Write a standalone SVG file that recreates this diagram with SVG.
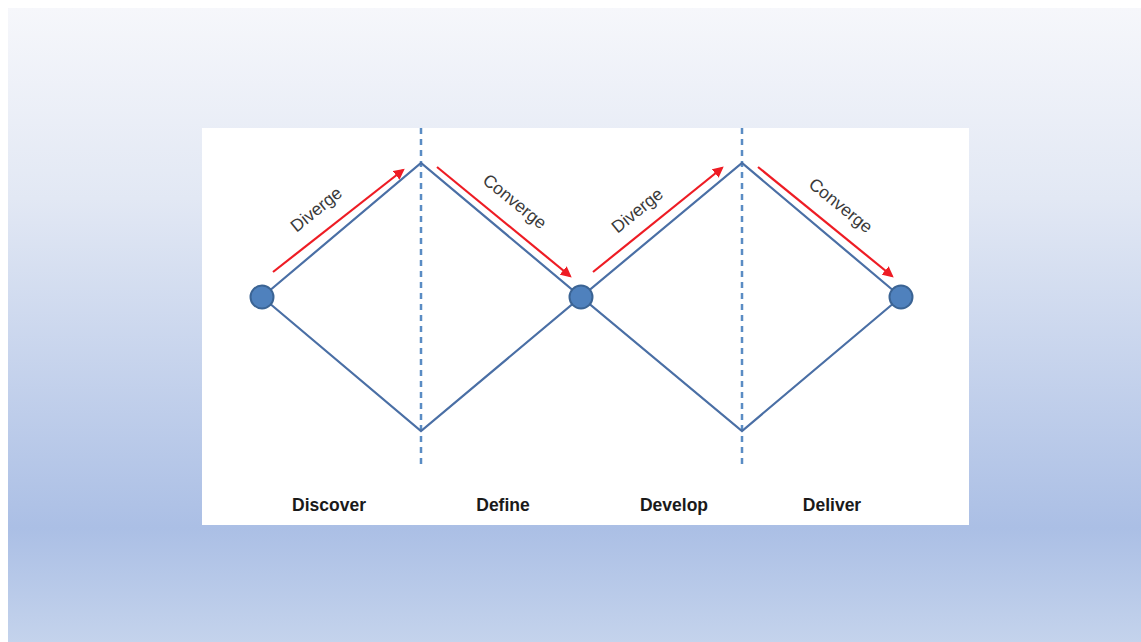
<svg xmlns="http://www.w3.org/2000/svg" width="1141" height="642" viewBox="0 0 1141 642">
<style>
.edge{stroke:#4a6fa5;stroke-width:2.2;fill:none}
.dash{stroke:#5a8cc4;stroke-width:2.5;stroke-dasharray:6 5;fill:none}
.arr{stroke:#ee1c24;stroke-width:2.2;fill:none;marker-end:url(#ah)}
.node{fill:#4f81bd;stroke:#3b6494;stroke-width:2}
.lbl{font-family:"Liberation Sans",Arial,sans-serif;font-size:17.5px;fill:#3a3a3a;text-anchor:middle}
.phase{font-family:"Liberation Sans",Arial,sans-serif;font-size:17.5px;font-weight:bold;fill:#1a1a1a;text-anchor:middle}
</style>
<defs>
<linearGradient id="bg" x1="0" y1="0" x2="0" y2="1">
<stop offset="0" stop-color="#f6f7fb"/>
<stop offset="0.3" stop-color="#e2e8f4"/>
<stop offset="0.82" stop-color="#abbfe5"/>
<stop offset="1" stop-color="#c4d3ec"/>
</linearGradient>
<marker id="ah" viewBox="0 0 10 10" refX="8" refY="5" markerWidth="5" markerHeight="5" orient="auto" markerUnits="strokeWidth">
<path d="M0,0 L10,5 L0,10 Z" fill="#ee1c24"/>
</marker>
</defs>
<rect width="1141" height="642" fill="#ffffff"/>
<rect x="8" y="8" width="1133" height="634" fill="url(#bg)"/>
<rect x="202" y="128" width="767" height="397" fill="#ffffff"/>
<g id="connectors">
<line class="dash" x1="421" y1="128" x2="421" y2="466"/>
<line class="dash" x1="742" y1="128" x2="742" y2="466"/>
<polyline class="edge" points="262,297 421,163 581,297 742,163 901,297"/>
<polyline class="edge" points="262,297 421,431 581,297 742,431 901,297"/>
<line class="arr" x1="273" y1="272" x2="403" y2="170"/>
<line class="arr" x1="437" y1="167" x2="570" y2="276"/>
<line class="arr" x1="593" y1="272" x2="722" y2="168"/>
<line class="arr" x1="758" y1="167" x2="892" y2="276"/>
<text class="lbl" transform="translate(320,214) rotate(-39)">Diverge</text>
<text class="lbl" transform="translate(511,206) rotate(39)">Converge</text>
<text class="lbl" transform="translate(641,215) rotate(-39)">Diverge</text>
<text class="lbl" transform="translate(837,210) rotate(39)">Converge</text>
</g>
<g id="n1"><circle class="node" cx="262" cy="297" r="11.5"/></g>
<g id="n2"><circle class="node" cx="581" cy="297" r="11.5"/></g>
<g id="n3"><circle class="node" cx="901" cy="297" r="11.5"/></g>
<g id="labels">
<text class="phase" x="329" y="511">Discover</text>
<text class="phase" x="503" y="511">Define</text>
<text class="phase" x="674" y="511">Develop</text>
<text class="phase" x="832" y="511">Deliver</text>
</g>
</svg>
